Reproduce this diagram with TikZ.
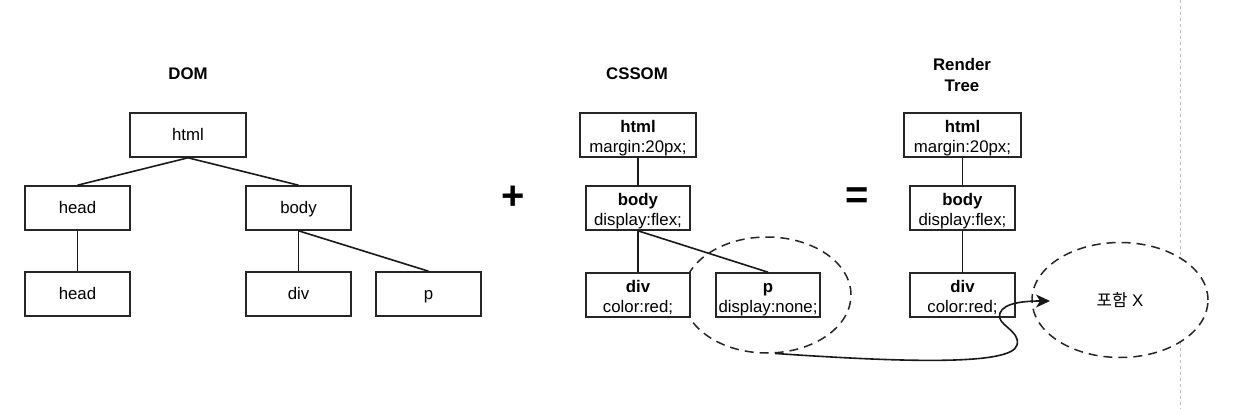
\documentclass[tikz,border=0pt]{standalone}
\usepackage{fontspec}
\setmainfont{Liberation Sans}
\newfontfamily\krfont{Noto Sans CJK KR}
\usetikzlibrary{shapes.geometric,arrows.meta}
\newcommand{\toplift}{\rule{0pt}{17.5pt}}
\begin{document}
\begin{tikzpicture}[x=1pt,y=-1pt,
  every node/.style={font=\fontsize{16.8}{20}\selectfont, inner sep=0pt},
  box/.style={draw=black!85, line width=1.6pt, fill=white, minimum height=44pt, align=center},
  sbox/.style={box, text height=14pt, text depth=3pt},
  title/.style={font=\fontsize{16.8}{21}\selectfont\bfseries, align=center},
  bigsym/.style={font=\fontsize{40}{40}\selectfont\bfseries},
  edge/.style={line width=1.6pt, draw=black!90},
  hidering/.style={ellipse, draw=black!85, dash pattern=on 9pt off 6pt, line width=1.5pt},
  pageline/.style={draw=black!25, dash pattern=on 3pt off 3pt, line width=1pt}]
\useasboundingbox (0,0) rectangle (1250,409);
% page break line
\coordinate (pgtop) at (1180,0);
\coordinate (pgbot) at (1180,409);
\draw[pageline] (pgtop) -- (pgbot);

% titles
\node[title] (tdom) at (188,74) {DOM};
\node[title] (tcss) at (637,74) {CSSOM};
\node[title] (trt) at (962,75) {Render\\Tree};
\node[bigsym] (plus) at (513,198) {+};
\node[bigsym] (eq) at (857,198) {=};

% DOM tree
\node[sbox, minimum width=116pt] (dhtml) at (188,135) {html};
\node[sbox, minimum width=105pt] (dhead) at (77.5,208) {head};
\node[sbox, minimum width=105pt] (dbody) at (298.5,208) {body};
\node[sbox, minimum width=105pt] (dhead2) at (77.5,294) {head};
\node[sbox, minimum width=105pt] (ddiv) at (298.5,294) {div};
\node[sbox, minimum width=105pt] (dp) at (428.5,294) {p};
\draw[edge] (dhtml.south) -- (dhead.north);
\draw[edge] (dhtml.south) -- (dbody.north);
\draw[edge] (dhead.south) -- (dhead2.north);
\draw[edge] (dbody.south) -- (ddiv.north);
\draw[edge] (dbody.south) -- (dp.north);

% CSSOM dashed ellipse (behind)
\node[hidering, minimum width=168pt, minimum height=116pt] (hide) at (767,295) {};

% CSSOM tree
\node[box, minimum width=116pt] (chtml) at (638,135) {\toplift\textbf{html}\\margin:20px;};
\node[box, minimum width=104pt] (cbody) at (638,208) {\toplift\textbf{body}\\display:flex;};
\node[box, minimum width=104pt] (cdiv) at (638,295) {\toplift\textbf{div}\\color:red;};
\node[box, minimum width=104pt] (cp) at (768,295) {\toplift\textbf{p}\\display:none;};
\draw[edge] (chtml.south) -- (cbody.north);
\draw[edge] (cbody.south) -- (cdiv.north);
\draw[edge] (cbody.south) -- (cp.north);

% Render tree
\node[box, minimum width=117pt] (rhtml) at (962.5,135) {\toplift\textbf{html}\\margin:20px;};
\node[box, minimum width=105pt] (rbody) at (962.5,208) {\toplift\textbf{body}\\display:flex;};
\node[box, minimum width=105pt] (rdiv) at (962.5,295) {\toplift\textbf{div}\\color:red;};
\draw[edge] (rhtml.south) -- (rbody.north);
\draw[edge] (rbody.south) -- (rdiv.north);

% excluded ellipse
\node[hidering, fill=white, minimum width=176pt, minimum height=115pt] (excl) at (1120,300) {{\krfont 포함} X};

% curved arrow
\coordinate (atip) at (1050,301);
\draw[edge, -{Stealth[length=14pt,width=13pt,inset=4pt]}]
  (hide.-82) .. controls (900,362) and (1012,366) .. (1017,345)
  .. controls (1021,330) and (995,325) .. (1000,313)
  .. controls (1004,302) and (1028,301) .. (atip);
\end{tikzpicture}
\end{document}
